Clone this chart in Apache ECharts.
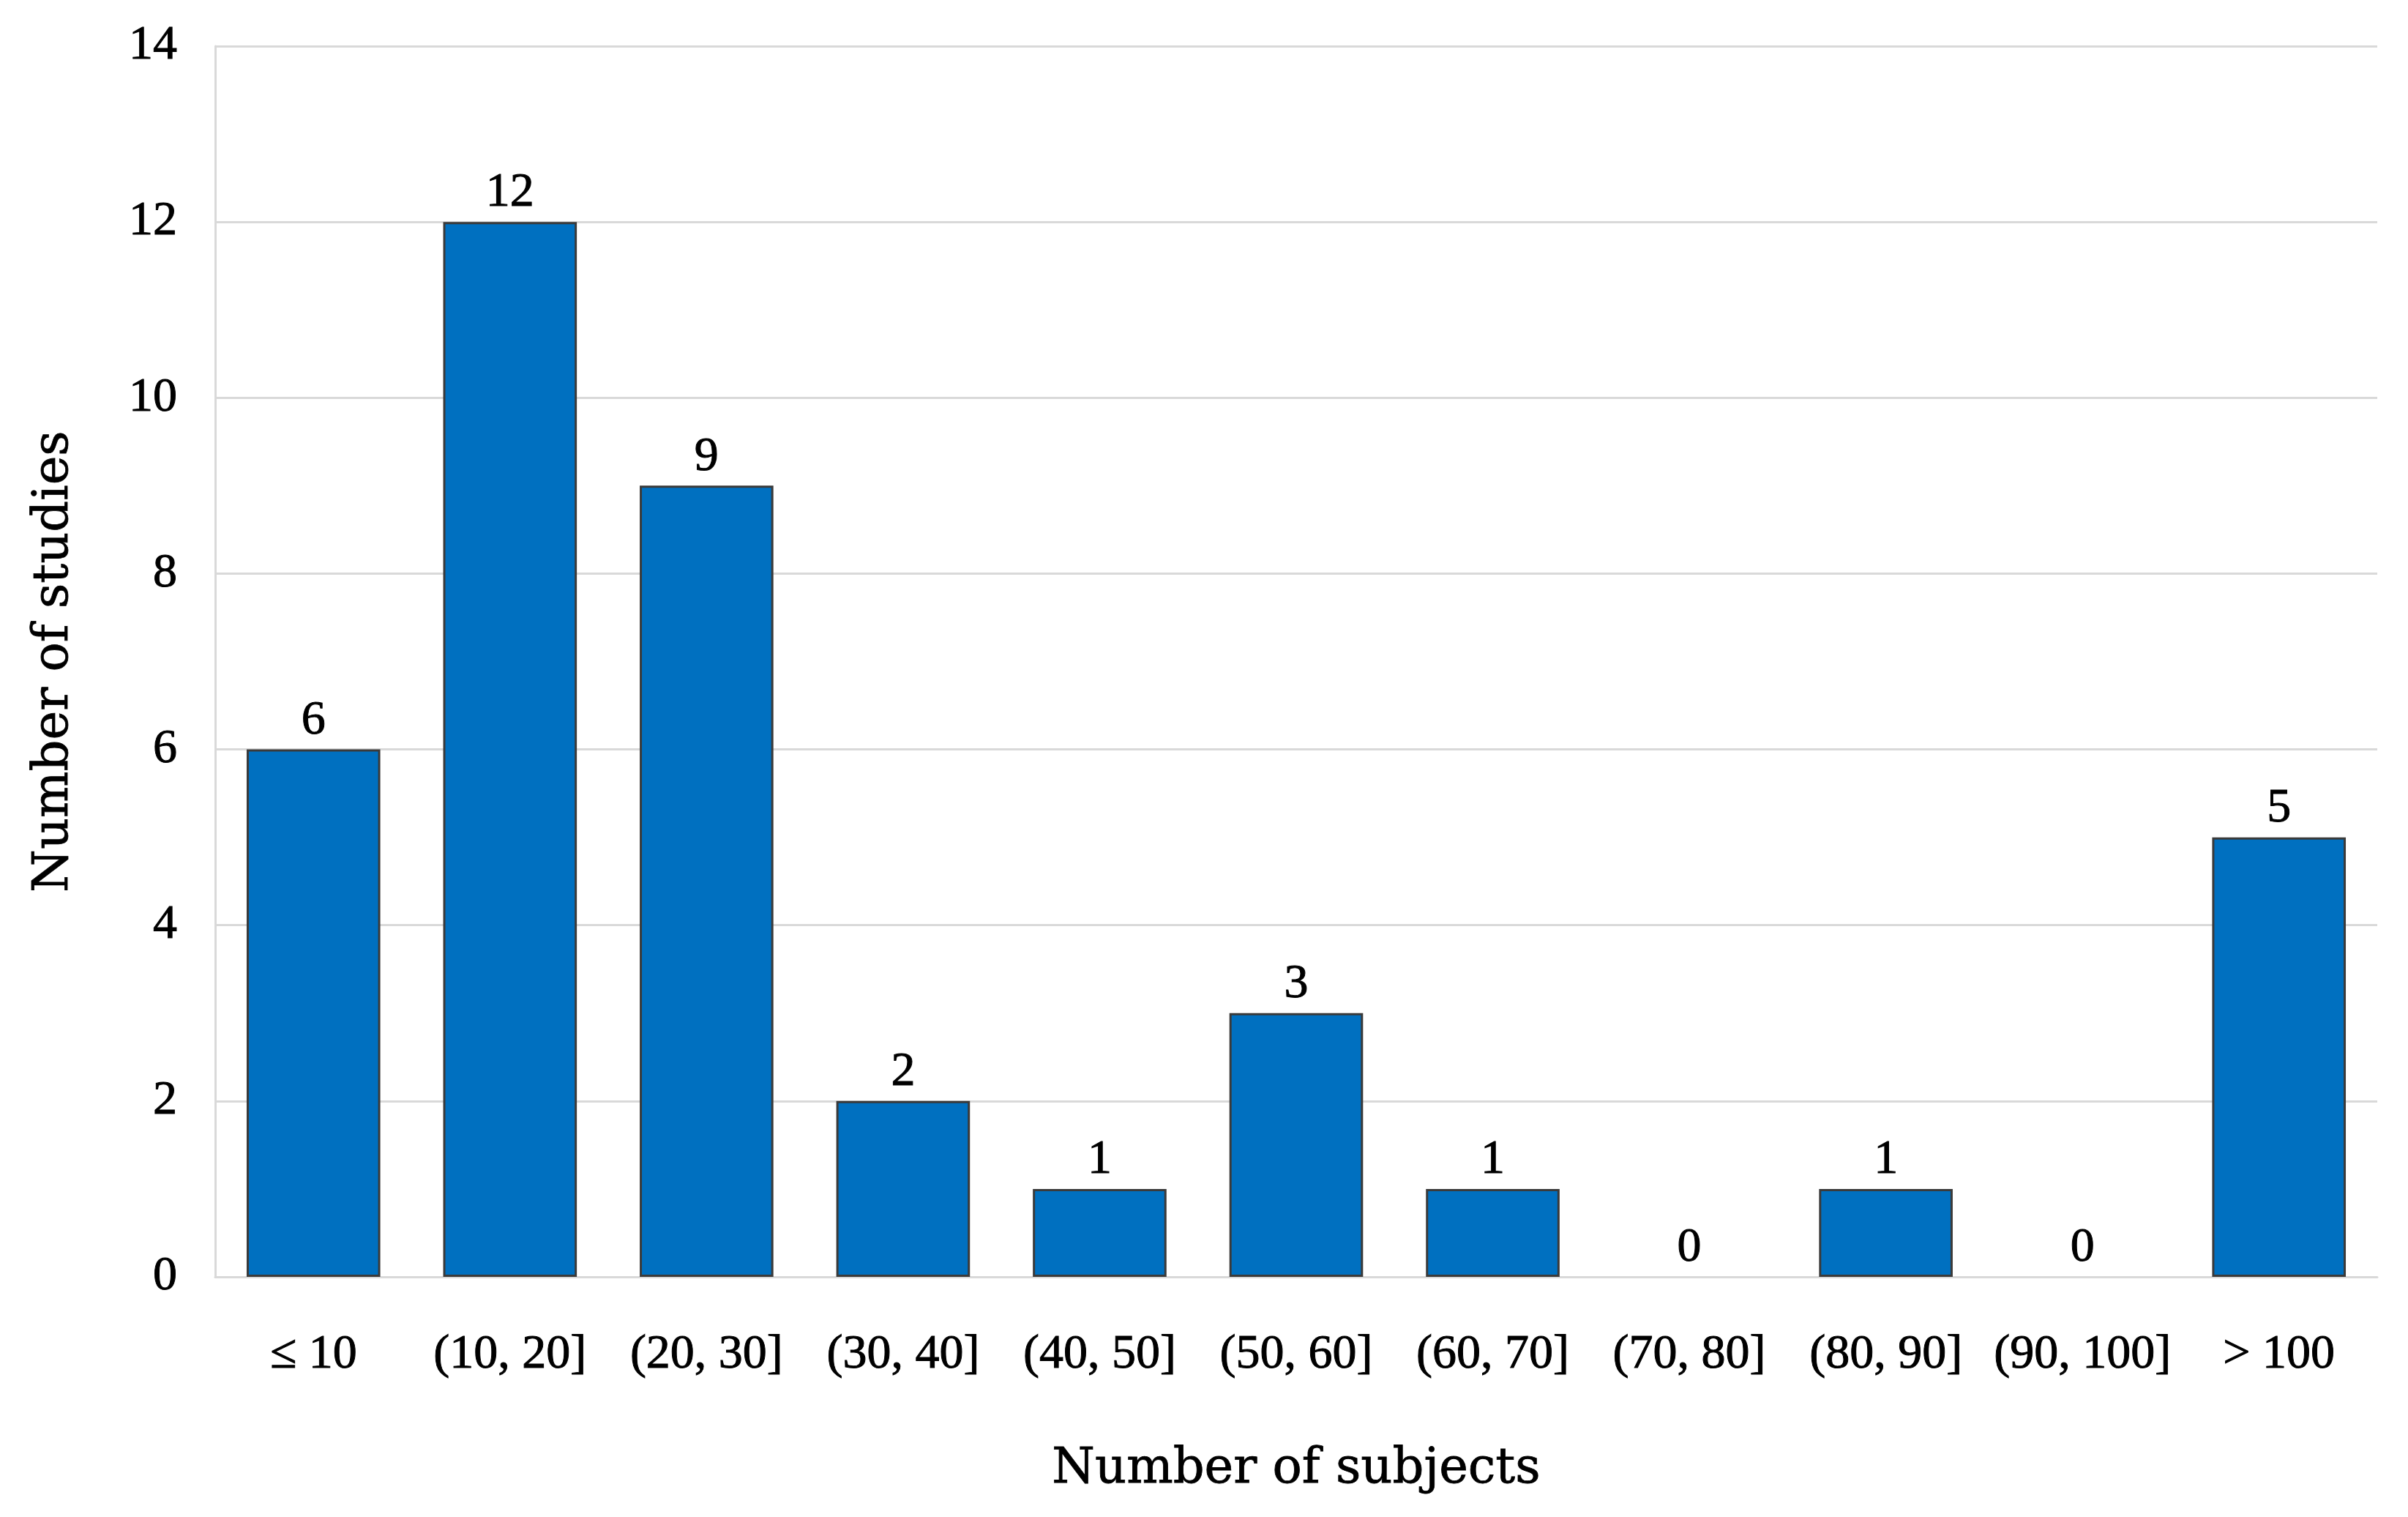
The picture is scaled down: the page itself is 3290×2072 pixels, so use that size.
<!DOCTYPE html>
<html>
<head>
<meta charset="utf-8">
<script src="https://cdn.jsdelivr.net/npm/echarts@6/dist/echarts.min.js"></script>
<style>
  html, body { margin: 0; padding: 0; background: #ffffff; }
  #chart { width: 3290px; height: 2072px; }
</style>
</head>
<body>
<div id="chart"></div>
<script>
const categories = ['≤ 10', '(10, 20]', '(20, 30]', '(30, 40]', '(40, 50]', '(50, 60]', '(60, 70]', '(70, 80]', '(80, 90]', '(90, 100]', '> 100'];
const studies = [6, 12, 9, 2, 1, 3, 1, 0, 1, 0, 5];
const xTitle = 'Number of subjects';
const yTitle = 'Number of studies';

const tickFont = '"Liberation Serif", "Times New Roman", serif';
const titleFont = '"DejaVu Serif", serif';

// zero-height bars are drawn without an outline, as in the reference
const barData = studies.map(v => v === 0 ? { value: v, itemStyle: { borderWidth: 0 } } : v);

const chart = echarts.init(document.getElementById('chart'), null, { renderer: 'canvas' });
chart.setOption({
  backgroundColor: '#ffffff',
  animation: false,
  grid: { left: 294, right: 42, top: 63, bottom: 328, containLabel: false },
  xAxis: {
    type: 'category',
    data: categories,
    name: xTitle,
    nameLocation: 'middle',
    nameGap: 230,
    nameTextStyle: { fontFamily: titleFont, fontSize: 67, color: '#000000', textBorderColor: '#000000', textBorderWidth: 0.8 },
    axisLine: { show: true, lineStyle: { color: '#d9d9d9', width: 3 } },
    axisTick: { show: false },
    axisLabel: { fontFamily: tickFont, fontSize: 66, color: '#000000', margin: 74, interval: 0, textBorderColor: '#000000', textBorderWidth: 1 },
    splitLine: { show: false }
  },
  yAxis: {
    type: 'value',
    min: 0,
    max: 14,
    interval: 2,
    name: yTitle,
    nameLocation: 'middle',
    nameGap: 186,
    nameTextStyle: { fontFamily: titleFont, fontSize: 67, color: '#000000', textBorderColor: '#000000', textBorderWidth: 0.8 },
    axisLine: { show: true, lineStyle: { color: '#d9d9d9', width: 3 } },
    axisTick: { show: false },
    axisLabel: { fontFamily: tickFont, fontSize: 66, color: '#000000', margin: 52, textBorderColor: '#000000', textBorderWidth: 1 },
    splitLine: { show: true, lineStyle: { color: '#d9d9d9', width: 3 } }
  },
  series: [{
    type: 'bar',
    data: barData,
    barWidth: '68%',
    itemStyle: { color: '#0070c0', borderColor: '#3a3a3a', borderWidth: 3 },
    label: {
      show: true,
      position: 'top',
      distance: 6,
      fontFamily: tickFont,
      fontSize: 66,
      color: '#000000',
      textBorderColor: '#000000',
      textBorderWidth: 1
    }
  }]
});
</script>
</body>
</html>
